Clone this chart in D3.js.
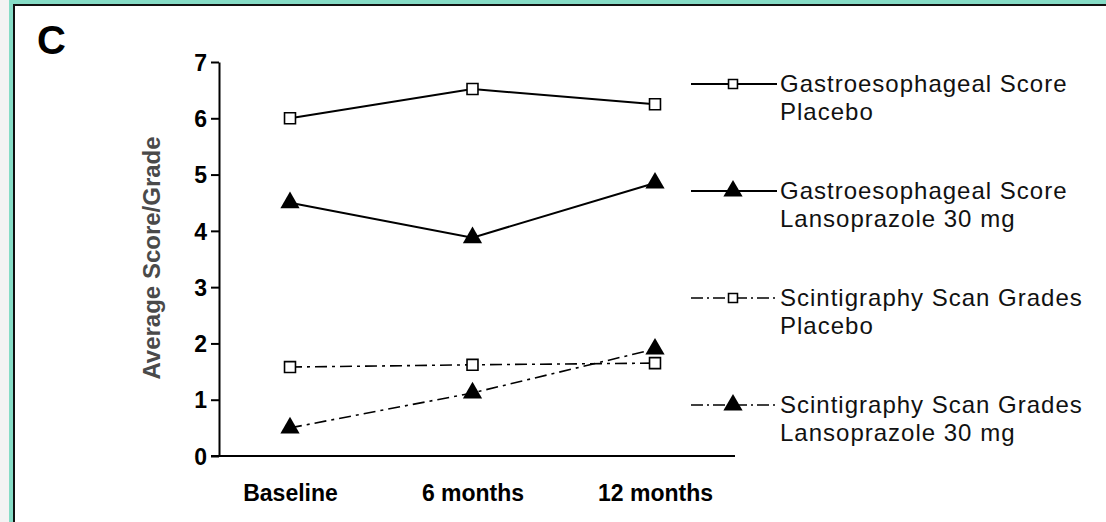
<!DOCTYPE html>
<head>
    <meta charset="utf-8">
    <script src="https://cdn.jsdelivr.net/npm/d3@7"></script>
    <style>
        body { margin: 0; background: #fff; }
        svg { display: block; font-family: "Liberation Sans", Arial, sans-serif; }
    </style>
    <title>Panel C</title>
</head>
<body>
    <div id="chart"></div>

    <script>
        // data
        const timepoints = ["Baseline", "6 months", "12 months"];
        const gePlacebo = [6.0, 6.52, 6.25];
        const geLanso = [4.5, 3.88, 4.85];
        const scPlacebo = [1.58, 1.62, 1.65];
        const scLanso = [0.5, 1.12, 1.9];
        const yTicks = [0, 1, 2, 3, 4, 5, 6, 7];
        const seriesNames = [
            ["Gastroesophageal Score", "Placebo"],
            ["Gastroesophageal Score", "Lansoprazole 30 mg"],
            ["Scintigraphy Scan Grades", "Placebo"],
            ["Scintigraphy Scan Grades", "Lansoprazole 30 mg"]
        ];

        const width = 1106, height = 522;

        const svg = d3.select("#chart").append("svg")
            .attr("width", width)
            .attr("height", height);

        // frame (cropped figure border)
        svg.append("rect").attr("x", 0).attr("y", 0).attr("width", 9).attr("height", height).attr("fill", "#f3f3f3");
        svg.append("rect").attr("x", 11).attr("y", 2).attr("width", width + 20).attr("height", height + 20)
            .attr("fill", "#fff").attr("stroke", "#86dcc6").attr("stroke-width", 4);
        svg.append("rect").attr("x", 14).attr("y", 5).attr("width", width + 20).attr("height", height + 20)
            .attr("fill", "none").attr("stroke", "#111").attr("stroke-width", 2);

        svg.append("text").attr("x", 37).attr("y", 54)
            .style("font-size", "40px").style("font-weight", "bold").text("C");

        const x = d3.scalePoint()
            .domain(timepoints)
            .range([290, 655]);

        const y = d3.scaleLinear()
            .domain([0, 7])
            .range([456, 62]);

        const x0 = 219, xEnd = 735;

        // y axis
        const yAxis = svg.append("g")
            .attr("transform", `translate(${x0},0)`)
            .call(d3.axisLeft(y).tickValues(yTicks).tickFormat(d3.format("d"))
                .tickSize(8).tickPadding(4).tickSizeOuter(0));
        yAxis.select(".domain").attr("stroke-width", 2);
        yAxis.selectAll(".tick line").attr("stroke-width", 2);
        yAxis.selectAll(".tick text")
            .style("font-size", "23px").style("font-weight", "bold")
            .attr("font-family", null).attr("dy", "0.36em");

        // x axis line, no ticks
        svg.append("line")
            .attr("x1", x0 - 8).attr("x2", xEnd)
            .attr("y1", y(0)).attr("y2", y(0))
            .attr("stroke", "#000").attr("stroke-width", 2);

        const xAxis = svg.append("g")
            .attr("transform", `translate(0,${y(0)})`)
            .call(d3.axisBottom(x).tickSize(0).tickPadding(45));
        xAxis.select(".domain").remove();
        xAxis.selectAll(".tick text")
            .style("font-size", "23px").style("font-weight", "bold")
            .attr("font-family", null).attr("dy", 0);

        svg.append("text")
            .attr("transform", `translate(160,258) rotate(-90)`)
            .attr("text-anchor", "middle")
            .style("font-size", "24px").style("font-weight", "bold")
            .attr("fill", "#4a4a4a")
            .text("Average Score/Grade");

        const dashDot = "12,5,3,5";
        const series = [
            { values: gePlacebo, marker: "square", dash: null, width: 2 },
            { values: geLanso, marker: "triangle", dash: null, width: 2 },
            { values: scPlacebo, marker: "square", dash: dashDot, width: 1.6 },
            { values: scLanso, marker: "triangle", dash: dashDot, width: 1.6 }
        ];

        const line = d3.line()
            .x((d, i) => x(timepoints[i]))
            .y(d => y(d));

        const sq = d3.symbol().type(d3.symbolSquare).size(120);
        const sqSmall = d3.symbol().type(d3.symbolSquare).size(80);
        const tri = d3.symbol().type(d3.symbolTriangle).size(160);

        function drawMarker(g, type, cx, cy, small) {
            if (type === "square") {
                g.append("path")
                    .attr("d", small ? sqSmall() : sq())
                    .attr("transform", `translate(${cx},${cy})`)
                    .attr("fill", "#fff").attr("stroke", "#000").attr("stroke-width", 1.6);
            } else {
                g.append("path")
                    .attr("d", tri())
                    .attr("transform", `translate(${cx},${cy})`)
                    .attr("fill", "#000");
            }
        }

        const plot = svg.append("g");
        series.forEach(s => {
            plot.append("path")
                .datum(s.values)
                .attr("d", line)
                .attr("fill", "none")
                .attr("stroke", "#000")
                .attr("stroke-width", s.width)
                .attr("stroke-dasharray", s.dash);
            s.values.forEach((v, i) => drawMarker(plot, s.marker, x(timepoints[i]), y(v), false));
        });

        // legend
        const legend = svg.append("g").attr("transform", "translate(691,84)");
        series.forEach((s, i) => {
            const g = legend.append("g").attr("transform", `translate(0,${i * 107})`);
            g.append("line")
                .attr("x1", 0).attr("x2", 86)
                .attr("stroke", "#000").attr("stroke-width", s.width)
                .attr("stroke-dasharray", s.dash ? "12,4,2,4" : null);
            drawMarker(g, s.marker, 42, 0, true);
            const t = g.append("text")
                .attr("x", 89).attr("y", 8)
                .style("font-size", "24px").style("letter-spacing", "1px")
                .attr("fill", "#111");
            t.append("tspan").attr("x", 89).text(seriesNames[i][0]);
            t.append("tspan").attr("x", 89).attr("dy", 28).text(seriesNames[i][1]);
        });
    </script>
</body>
